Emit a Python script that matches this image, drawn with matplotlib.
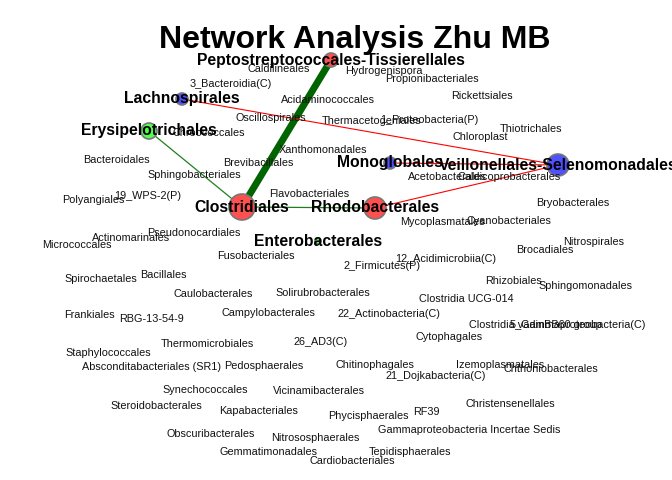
import matplotlib
matplotlib.use('Agg')
import matplotlib.pyplot as plt
from matplotlib.patches import Circle

# hub nodes (layout positions, radius, fill colour)
hub_names = ['Peptostreptococcales-Tissierellales', 'Lachnospirales', 'Erysipelotrichales',
             'Clostridiales', 'Rhodobacterales', 'Monoglobales',
             'Veillonellales-Selenomonadales', 'Enterobacterales']
hub_x = [331, 182, 149, 242, 375, 390, 558, 318]
hub_y = [60, 99, 131, 207, 208, 163, 165, 241]
hub_r = [7, 6, 8, 13, 11, 6, 11, 3]
hub_col = ['#ff5050', '#5050ff', '#50ff50', '#ff5050', '#ff5050', '#5050ff', '#5050ff', '#50ff50']

# edges between hubs
edge_from = ['Peptostreptococcales-Tissierellales', 'Erysipelotrichales', 'Clostridiales',
             'Lachnospirales', 'Monoglobales', 'Rhodobacterales']
edge_to = ['Clostridiales', 'Clostridiales', 'Rhodobacterales',
           'Veillonellales-Selenomonadales', 'Veillonellales-Selenomonadales',
           'Veillonellales-Selenomonadales']
edge_w = [5.0, 0.9, 0.9, 0.8, 0.8, 0.8]
edge_col = ['#006400', '#1f7f1f', '#1f7f1f', '#ff0000', '#ff0000', '#ff0000']

# isolated nodes (label only)
other_names = ['Caldilineales', '3_Bacteroidia(C)', 'Acidaminococcales', 'Oscillospirales',
               'Chroococcales', 'Hydrogenispora', 'Propionibacteriales', 'Rickettsiales',
               'Thermacetogeniales', '1_Proteobacteria(P)', 'Chloroplast', 'Thiotrichales',
               'Xanthomonadales', 'Acetobacterales', 'Caldicoprobacterales', 'Bacteroidales',
               'Brevibacillales', 'Sphingobacteriales', '19_WPS-2(P)', 'Polyangiales',
               'Flavobacteriales', 'Pseudonocardiales', 'Actinomarinales', 'Micrococcales',
               'Fusobacteriales', 'Spirochaetales', 'Bacillales', 'Caulobacterales',
               'Solirubrobacterales', 'Frankiales', 'RBG-13-54-9', 'Campylobacterales',
               '22_Actinobacteria(C)', 'Clostridia UCG-014', 'Rhizobiales', 'Sphingomonadales',
               'Brocadiales', 'Nitrospirales', 'Bryobacterales', 'Mycoplasmatales',
               'Cyanobacteriales', '12_Acidimicrobiia(C)', '2_Firmicutes(P)',
               'Clostridia vadinBB60 group', '5_Gammaproteobacteria(C)', 'Cytophagales',
               '26_AD3(C)', 'Thermomicrobiales', 'Staphylococcales',
               'Absconditabacteriales (SR1)', 'Pedosphaerales', 'Chitinophagales',
               'Izemoplasmatales', 'Chthoniobacterales', '21_Dojkabacteria(C)',
               'Vicinamibacterales', 'Synechococcales', 'Steroidobacterales', 'Kapabacteriales',
               'Phycisphaerales', 'RF39', 'Christensenellales',
               'Gammaproteobacteria Incertae Sedis', 'Obscuribacterales', 'Nitrososphaerales',
               'Gemmatimonadales', 'Tepidisphaerales', 'Cardiobacteriales']
other_x = [279, 231, 328, 271, 209, 384, 432, 482, 372, 429, 480, 531, 323, 447, 509, 116,
           258, 194, 148, 93, 309, 194, 131, 77, 256, 101, 163, 213, 323, 89, 151, 268,
           389, 466, 514, 585, 545, 594, 573, 442, 509, 446, 382, 535, 578, 449, 321, 207,
           108, 152, 264, 375, 500, 551, 436, 319, 205, 156, 259, 368, 426, 510, 469, 211,
           315, 269, 410, 352]
other_y = [69, 84, 100, 118, 133, 71, 79, 96, 121, 120, 137, 129, 150, 177, 177, 160,
           163, 175, 196, 200, 194, 233, 238, 245, 256, 279, 275, 294, 293, 315, 319, 313,
           314, 299, 281, 286, 250, 242, 203, 222, 221, 259, 266, 325, 325, 337, 342, 344,
           353, 367, 366, 365, 365, 369, 376, 391, 390, 406, 411, 416, 412, 404, 430, 434,
           438, 452, 452, 461]

plt.rcParams['font.family'] = ['Liberation Sans', 'DejaVu Sans']

fig = plt.figure(figsize=(6.72, 4.8), dpi=100)
ax = fig.add_axes([0, 0, 1, 1])
ax.set_xlim(0, 672)
ax.set_ylim(480, 0)
ax.axis('off')

pos = {n: (x, y) for n, x, y in zip(hub_names, hub_x, hub_y)}

# edges
for a, b, w, c in zip(edge_from, edge_to, edge_w, edge_col):
    ax.plot([pos[a][0], pos[b][0]], [pos[a][1], pos[b][1]], color=c, lw=w,
            solid_capstyle='butt', zorder=1)

# hub nodes
for x, y, r, c in zip(hub_x, hub_y, hub_r, hub_col):
    ax.add_patch(Circle((x, y), r, facecolor=c, edgecolor='#777777', lw=1.2, zorder=2))

# labels
for n, x, y in zip(other_names, other_x, other_y):
    ax.text(x, y, n, ha='center', va='center', fontsize=7.8, color='#111111', zorder=3)
for n, x, y in zip(hub_names, hub_x, hub_y):
    ax.text(x, y, n, ha='center', va='center', fontsize=11.3, fontweight='bold',
            color='black', zorder=4)

ax.text(355, 40, 'Network Analysis Zhu MB', ha='center', va='center',
        fontsize=23, fontweight='bold', zorder=5)

fig.savefig('out.png', dpi=100)
